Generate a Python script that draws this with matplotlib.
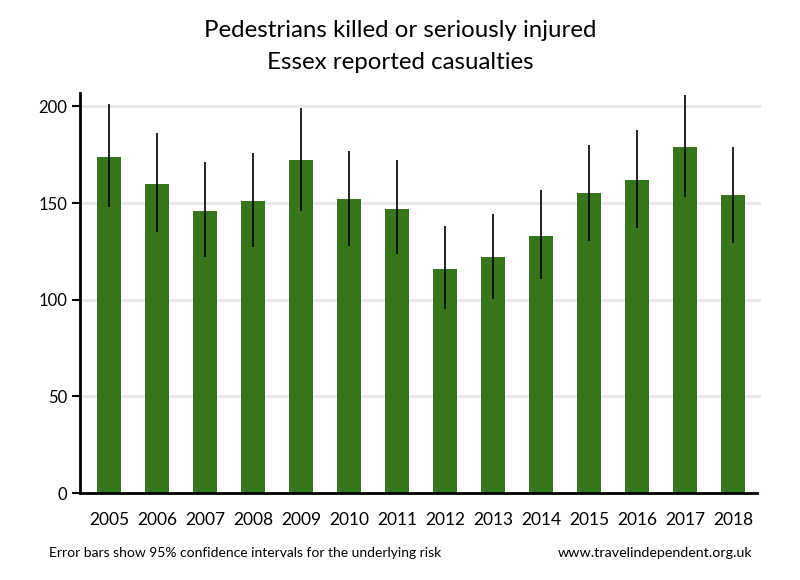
import matplotlib
matplotlib.use("Agg")
import numpy as np
import matplotlib.pyplot as plt

plt.rcParams['font.family'] = ['Lato', 'DejaVu Sans']

# Data
years = ["2005", "2006", "2007", "2008", "2009", "2010", "2011",
         "2012", "2013", "2014", "2015", "2016", "2017", "2018"]
casualties = [174, 160, 146, 151, 172, 152, 147, 116, 122, 133, 155, 162, 179, 154]
ci_low = [148, 135, 122, 127, 146, 128, 123.5, 95, 100.5, 110.5, 130.5, 137, 153, 129.5]
ci_high = [201, 186, 171, 176, 199, 177, 172, 138, 144.5, 156.5, 180, 188, 206, 179]

green = "#38761d"

fig = plt.figure(figsize=(8, 5.8), dpi=100)
ax = fig.add_axes([0.1, 0.15, 0.851, 0.69])

x = np.arange(len(years))
ax.bar(x, casualties, width=0.51, color=green, zorder=2)
yerr = [np.array(casualties) - np.array(ci_low), np.array(ci_high) - np.array(casualties)]
ax.errorbar(x, casualties, yerr=yerr, fmt="none", ecolor="black", elinewidth=1.2, capsize=0, zorder=3)

ax.set_xlim(-0.6, 13.58)
ax.set_ylim(0, 207)
ax.set_yticks([0, 50, 100, 150, 200])
ax.yaxis.grid(True, color="#e6e6e6", linewidth=2, zorder=0)
ax.set_axisbelow(True)

ax.set_xticks(x)
ax.set_xticklabels(years, fontsize=12.5)
ax.tick_params(axis="x", length=0, pad=14)
ax.tick_params(axis="y", length=6, width=1.5, labelsize=12, pad=3)

for s in ["top", "right"]:
    ax.spines[s].set_visible(False)
ax.spines["left"].set_linewidth(2)
ax.spines["bottom"].set_linewidth(2)
ax.spines["bottom"].set_bounds(-0.6, 13.5)

fig.text(0.5, 0.948, "Pedestrians killed or seriously injured", ha="center", va="center", fontsize=17.3)
fig.text(0.5, 0.893, "Essex reported casualties", ha="center", va="center", fontsize=17.3)

fig.text(0.061, 0.046, "Error bars show 95% confidence intervals for the underlying risk", ha="left", va="center", fontsize=10)
fig.text(0.94, 0.046, "www.travelindependent.org.uk", ha="right", va="center", fontsize=10.3)

fig.savefig("out.png", dpi=100)
